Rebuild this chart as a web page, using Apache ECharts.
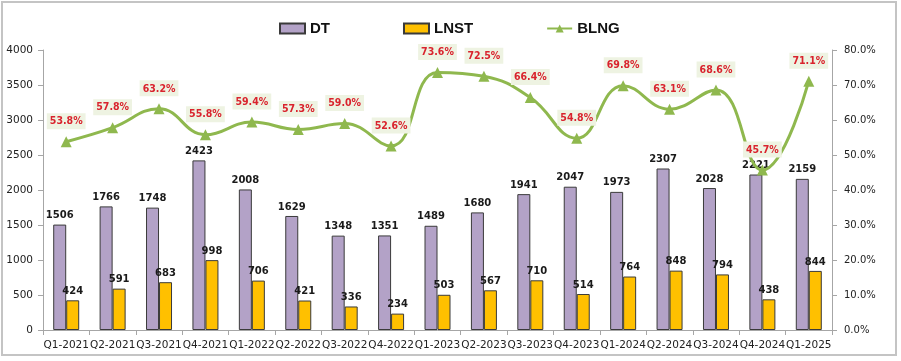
<!DOCTYPE html>
<html>
<head>
<meta charset="utf-8">
<script src="https://cdn.jsdelivr.net/npm/echarts@6/dist/echarts.min.js"></script>
<style>
html,body{margin:0;padding:0;background:#fff;}
#c{width:901px;height:361px;}
</style>
</head>
<body>
<div id="c"></div>
<script>
var categories = ["Q1-2021","Q2-2021","Q3-2021","Q4-2021","Q1-2022","Q2-2022","Q3-2022","Q4-2022","Q1-2023","Q2-2023","Q3-2023","Q4-2023","Q1-2024","Q2-2024","Q3-2024","Q4-2024","Q1-2025"];
var dtValues = [1506,1766,1748,2423,2008,1629,1348,1351,1489,1680,1941,2047,1973,2307,2028,2221,2159];
var lnstValues = [424,591,683,998,706,421,336,234,503,567,710,514,764,848,794,438,844];
var blngValues = [53.8,57.8,63.2,55.8,59.4,57.3,59.0,52.6,73.6,72.5,66.4,54.8,69.8,63.1,68.6,45.7,71.1];
var seriesNames = ["DT","LNST","BLNG"];

var chart = echarts.init(document.getElementById('c'), null, {renderer:'canvas'});
var barLabel = {show:true, position:'top', distance:4, color:'#1a1a1a', fontFamily:'DejaVu Sans', fontWeight:'bold', fontSize:10};
chart.setOption({
  animation:false,
  backgroundColor:'#ffffff',
  graphic:[{type:'rect', shape:{x:2,y:2,width:894,height:353}, style:{fill:'none', stroke:'#c4c4c4', lineWidth:2}, silent:true}],
  legend:{
    left:274, top:16, itemWidth:25, itemHeight:10, itemGap:73,
    textStyle:{fontFamily:'Liberation Sans', fontWeight:'bold', fontSize:15, color:'#111'},
    data:[
      {name:seriesNames[0], icon:'rect'},
      {name:seriesNames[1], icon:'rect'},
      {name:seriesNames[2]}
    ]
  },
  grid:{left:43, right:69, top:50, bottom:31},
  xAxis:{
    type:'category', data:categories,
    axisLine:{lineStyle:{color:'#a6a6a6', width:1}},
    axisTick:{show:true, length:5, lineStyle:{color:'#a6a6a6'}},
    axisLabel:{interval:0, margin:10, fontFamily:'DejaVu Sans', fontSize:10.5, color:'#222'}
  },
  yAxis:[
    {type:'value', min:0, max:4000, interval:500,
     axisLine:{show:true, lineStyle:{color:'#a6a6a6'}},
     axisTick:{show:true, length:5, lineStyle:{color:'#a6a6a6'}},
     splitLine:{show:false},
     axisLabel:{margin:10, fontFamily:'DejaVu Sans', fontSize:10.5, color:'#222',
       formatter:function(v){return String(v);}}},
    {type:'value', min:0, max:80, interval:10, position:'right',
     axisLine:{show:true, lineStyle:{color:'#a6a6a6'}},
     axisTick:{show:true, length:5, lineStyle:{color:'#a6a6a6'}},
     splitLine:{show:false},
     axisLabel:{margin:12, fontFamily:'DejaVu Sans', fontSize:10, color:'#222',
       formatter:function(v){return v.toFixed(1)+'%';}}}
  ],
  series:[
    {name:seriesNames[0], type:'bar', data:dtValues, barWidth:13, barGap:'0%',
     itemStyle:{color:'#b3a2c7', borderColor:'#3a3a3a', borderWidth:1},
     label:barLabel},
    {name:seriesNames[1], type:'bar', data:lnstValues, barWidth:13, barGap:'0%',
     itemStyle:{color:'#ffc000', borderColor:'#3a3a3a', borderWidth:1},
     label:barLabel},
    {name:seriesNames[2], type:'line', yAxisIndex:1, data:blngValues, smooth:0.45,
     symbol:'triangle', symbolSize:11,
     lineStyle:{color:'#8fb84e', width:3},
     itemStyle:{color:'#8fb84e'},
     z:5,
     label:{show:true, position:'top', distance:7, color:'#d9232d', fontFamily:'DejaVu Sans Condensed', fontWeight:'bold', fontSize:10.5,
       backgroundColor:'#eef3e2', padding:[3,3,2,3],
       formatter:function(p){return p.value.toFixed(1)+'%';}}}
  ]
});
</script>
</body>
</html>
